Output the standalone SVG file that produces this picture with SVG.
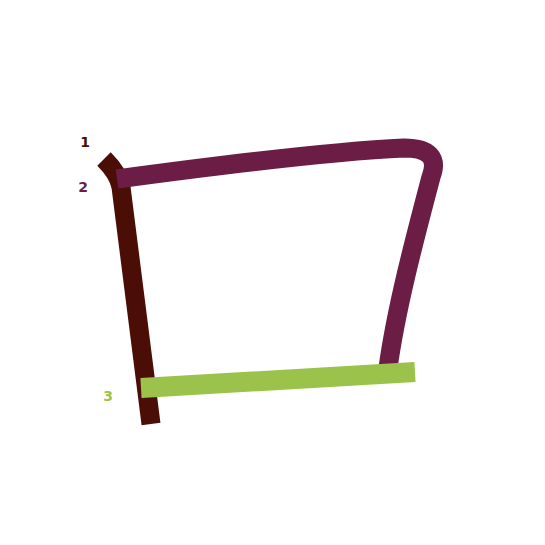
<svg xmlns="http://www.w3.org/2000/svg" width="545" height="545" viewBox="0 0 545 545">
<style>
.ln{fill:none;stroke-linecap:butt;stroke-linejoin:round}
.lbl{font-family:"DejaVu Sans",sans-serif;font-size:14px;font-weight:bold;text-anchor:middle}
</style>
<rect width="545" height="545" fill="#ffffff"/>
<g id="connectors">
<path id="line1" class="ln" stroke="#4a0e06" stroke-width="19" d="M 104 159 C 113 168, 119 176, 121 187 L 151 424"/>
<path id="line2" class="ln" stroke="#6b1d46" stroke-width="19" d="M 117 179 C 250 161, 340 151, 404 148 Q 442 148 431 177 C 413 245, 396 310, 388 368"/>
<path id="line3" class="ln" stroke="#9bc34c" stroke-width="20" d="M 141 388 L 415 372"/>
</g>
<g id="labels">
<text class="lbl" x="85" y="147" fill="#4a0e06">1</text>
<text class="lbl" x="83" y="192" fill="#6b1d46">2</text>
<text class="lbl" x="108" y="401" fill="#9bc34c">3</text>
</g>
</svg>
